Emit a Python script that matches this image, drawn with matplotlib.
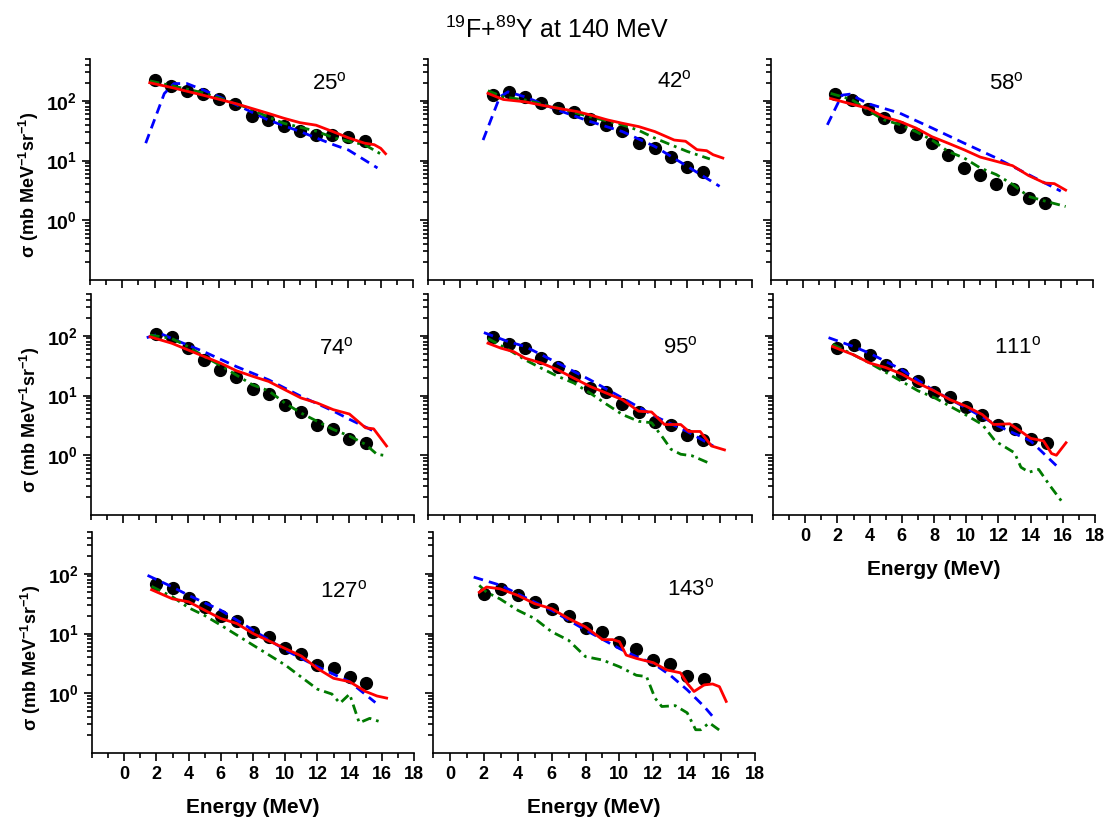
import math
import matplotlib
matplotlib.use('Agg')
import matplotlib.pyplot as plt
from matplotlib.ticker import FixedLocator, FuncFormatter, LogLocator, NullFormatter, MultipleLocator

plt.rcParams['font.family'] = ['Liberation Sans', 'DejaVu Sans']
plt.rcParams['mathtext.fontset'] = 'custom'
plt.rcParams['mathtext.rm'] = 'Liberation Sans'
plt.rcParams['mathtext.bf'] = 'Liberation Sans:bold'
plt.rcParams['mathtext.default'] = 'rm'

# angles (deg) in panel order
angles = [25, 42, 58, 74, 95, 111, 127, 143]

# measured data points
exp_E = [2, 3, 4, 5, 6, 7, 8, 9, 10, 11, 12, 13, 14, 15]
exp_sigma = {
    25: [220, 178, 147, 132, 107, 87, 56, 48, 38, 31, 27, 27, 25, 21],
    42: [124, 141, 116, 90, 75, 66, 49, 39.5, 31.7, 20, 16.5, 11.3, 7.7, 6.3],
    58: [129, 103, 72, 51, 37, 28, 19.5, 12.5, 7.4, 5.7, 4.0, 3.35, 2.4, 1.97],
    74: [107, 96, 62, 39.5, 27, 20.3, 13, 10.6, 7.0, 5.25, 3.27, 2.77, 1.89, 1.62],
    95: [96, 73, 62, 42, 29.8, 21.6, 13.3, 11.3, 7.3, 5.3, 3.63, 3.16, 2.15, 1.8],
    111: [62, 70, 48, 32.5, 22.8, 17.6, 11.4, 9.3, 6.4, 4.7, 3.27, 2.7, 1.85, 1.58],
    127: [68, 58, 39, 28, 19.7, 16.2, 10.7, 8.6, 5.8, 4.5, 2.97, 2.6, 1.9, 1.5],
    143: [45, 56, 43.5, 33.7, 26, 19.7, 12.6, 10.4, 7.1, 5.4, 3.6, 3.04, 1.97, 1.71],
}

# red solid calculation
red_E = {
    25: [1.7, 3, 5, 7, 9, 10, 11, 12, 13.1, 14, 15, 15.6, 16, 16.3],
    42: [1.7, 2.65, 4, 5.05, 6, 7.2, 8, 9.05, 10, 11, 12, 13.2, 13.9, 14.6, 15.2, 15.6, 16.2],
    58: [1.7, 3, 4, 5, 6, 7, 8, 9, 10, 11, 11.8, 13, 14, 15, 15.6, 16.3],
    74: [1.65, 3, 4, 5, 6, 7, 8, 9, 10, 11, 12, 13, 14, 15, 15.5, 16.3],
    95: [1.7, 2.5, 3.3, 4, 5, 6, 7, 8, 9, 10, 11, 11.8, 12.6, 13.6, 14.1, 14.8, 15.5, 16.3],
    111: [1.7, 3, 4, 5, 6, 7, 8, 9, 10, 11, 11.7, 12.7, 13.5, 14, 14.8, 15.3, 15.6, 16.2],
    127: [1.7, 3, 4, 5, 6, 7, 8, 9, 10, 11, 12, 13, 14, 15, 15.7, 16.3],
    143: [1.73, 2.16, 2.95, 4, 5, 6, 7, 8, 9, 9.6, 10, 10.4, 11, 12, 12.8, 13.6, 14, 14.4, 15, 15.5, 15.9, 16.3],
}
red_sigma = {
    25: [200, 168, 124, 90, 62, 51, 43, 39, 30, 24, 19.5, 18.4, 16, 13],
    42: [133, 105, 96, 84, 75, 66, 58, 48, 42, 37, 30.5, 22, 21, 15.2, 14.6, 12.5, 11],
    58: [109, 88, 75, 54, 45, 35, 25, 19.5, 15.1, 11.4, 10, 8.2, 5.6, 4.2, 4.1, 3.2],
    74: [96, 75, 58, 45, 35, 26, 21, 17.2, 12.5, 9.1, 7.5, 5.8, 4.9, 2.88, 2.77, 1.43],
    95: [75, 62, 54, 42, 35, 27, 19.5, 14.2, 11, 8.5, 5.46, 5.3, 3.27, 3.27, 2.5, 2.5, 1.43, 1.23],
    111: [66, 48, 35, 29.4, 22.8, 16.1, 12, 8.5, 6.6, 4.8, 3.27, 3.36, 2.4, 1.92, 1.74, 1.07, 1.0, 1.62],
    127: [54, 38, 34, 24.5, 17.8, 14.7, 10, 7.5, 5.6, 4.2, 2.6, 1.78, 1.56, 1.07, 0.9, 0.83],
    143: [49, 60, 56, 43.5, 31.6, 26, 17.8, 12.9, 7.9, 7.9, 7.3, 4.35, 3.83, 3.25, 2.45, 2.2, 1.47, 1.07, 1.38, 1.43, 1.29, 0.73],
}

# green dash-dot calculation
green_E = {
    25: [1.7, 3, 5, 7, 8, 9, 10, 12, 13.1, 14, 15, 16.2],
    42: [1.7, 2.65, 4, 6, 8, 10, 11, 12, 13, 14, 15.4],
    58: [1.7, 3, 4, 5, 6, 7, 8, 9, 10, 11, 12, 13, 14, 15, 16.3],
    74: [1.65, 3, 4, 5, 6, 7, 8, 9, 10, 11, 12, 13, 14, 15, 15.7, 16.1],
    95: [1.7, 3, 4, 5, 6, 7, 8, 9, 10, 11, 11.8, 12.5, 13, 13.6, 14.3, 15.5],
    111: [1.7, 3, 4, 5, 6, 7, 8, 9, 10, 11, 11.8, 13, 13.4, 13.9, 14.5, 15.2, 16],
    127: [1.7, 3, 4, 5, 6, 8, 10, 12, 12.9, 13.4, 14, 14.6, 15.25, 15.8],
    143: [1.73, 2.16, 2.95, 4, 5, 6, 7, 8, 9, 10, 11, 11.6, 12.1, 12.5, 13.3, 14, 14.5, 14.8, 15.3, 16],
}
green_sigma = {
    25: [215, 180, 136, 90, 72, 54, 42, 31, 24, 21, 18.4, 12],
    42: [147, 116, 103, 76, 54, 39.5, 32, 23.7, 18.3, 14.2, 10.6],
    58: [133, 105, 70, 48, 40, 30.5, 22, 14.2, 11, 7.5, 5.8, 4, 2.5, 2.1, 1.7],
    74: [103, 90, 66, 45, 32, 22, 15.1, 12, 7.5, 5.1, 3.7, 2.7, 2.1, 1.52, 1.04, 1.0],
    95: [90, 58, 39.5, 28.6, 21, 16.2, 11, 7.2, 4.8, 3.7, 3.5, 1.97, 1.26, 1.04, 0.98, 0.71],
    111: [72, 48, 35, 24.5, 17.2, 12, 9.3, 6.6, 4.7, 3.27, 1.73, 1.1, 0.63, 0.52, 0.58, 0.31, 0.16],
    127: [61.5, 41, 27, 20, 13.8, 6.4, 2.97, 1.17, 0.97, 0.68, 0.97, 0.32, 0.38, 0.34],
    143: [64, 49, 38, 24.5, 17.8, 10.7, 7.7, 4.1, 3.6, 2.78, 2.0, 1.9, 0.83, 0.6, 0.62, 0.47, 0.245, 0.245, 0.32, 0.23],
}

# blue dashed calculation
blue_E = {
    25: [1.45, 2.6, 3.2, 4, 5.05, 6, 7.1, 9, 11, 13.1, 14, 15.8],
    42: [1.4, 2.43, 2.94, 4, 6, 8, 10, 12, 14, 16],
    58: [1.5, 2.4, 2.9, 4, 6, 8, 10, 12, 14, 16],
    74: [1.45, 2.3, 3, 5, 7, 9, 11, 13, 14, 15.7],
    95: [1.45, 3, 4, 6, 8, 10, 12, 14, 15.6],
    111: [1.45, 3, 4, 6, 8, 10, 12, 14, 15.6],
    127: [1.45, 3, 4, 6, 8, 10, 12, 14, 15.6],
    143: [1.4, 3, 4, 6, 8, 10, 11, 12, 13, 14, 15, 15.6],
}
blue_sigma = {
    25: [19.5, 132, 194, 194, 150, 116, 85, 48, 30.6, 18.3, 15, 7.5],
    42: [22, 116, 141, 116, 70, 45, 30.5, 17.2, 8, 3.7],
    58: [39.5, 124, 129, 90, 62, 35, 19.5, 11, 5.8, 3.07],
    74: [93, 109, 90, 54, 30.5, 18.3, 9.7, 5.5, 4, 2.4],
    95: [113, 79, 66, 35, 18.3, 9.1, 4.5, 2.5, 1.43],
    111: [93, 66, 51, 27, 12, 6.2, 3.08, 1.74, 0.67],
    127: [94, 60, 43.5, 24.5, 11.4, 5.3, 2.78, 1.56, 0.7],
    143: [88, 64, 46, 24.5, 11.4, 5.6, 4.1, 3.16, 2.0, 1.14, 0.6, 0.38],
}

energy_ticks = [0, 2, 4, 6, 8, 10, 12, 14, 16, 18]

# panel boxes in pixels: left, top, right, bottom
W, H = 1109, 823
boxes = {
    25: (90, 59, 413, 280), 42: (428, 59, 752, 280), 58: (771, 59, 1093, 280),
    74: (91, 294, 414, 515), 95: (428, 294, 752, 515), 111: (773, 294, 1095, 515),
    127: (92, 532, 414, 753), 143: (433, 532, 755, 753),
}
xmins = {25: -2, 42: -2, 58: -2, 74: -2, 95: -2, 111: -2, 127: -2, 143: -1}
label_pos = {25: (0.74, 0.89), 42: (0.76, 0.90), 58: (0.73, 0.89), 74: (0.76, 0.755),
             95: (0.78, 0.76), 111: (0.76, 0.76), 127: (0.78, 0.73), 143: (0.80, 0.74)}
left_col = [25, 74, 127]
bottom_row = [111, 127, 143]

fig = plt.figure(figsize=(W / 100, H / 100), dpi=100)

for ang in angles:
    l, t, r, b = boxes[ang]
    ax = fig.add_axes([l / W, 1 - b / H, (r - l) / W, (b - t) / H])
    ax.plot(exp_E, exp_sigma[ang], 'o', color='black', markersize=8.5, zorder=2)
    ax.plot(blue_E[ang], blue_sigma[ang], color='#0000ff', lw=2, dashes=(3.5, 2.2), zorder=3)
    ax.plot(green_E[ang], green_sigma[ang], color='#007a00', lw=2, dashes=(3.5, 1.8, 1, 1.8), zorder=3)
    ax.plot(red_E[ang], red_sigma[ang], color='#ff0000', lw=2, zorder=4)

    ax.set_yscale('log')
    ax.set_ylim(0.1, 500)
    ax.set_xlim(xmins[ang], 18)
    ax.spines['top'].set_visible(False)
    ax.spines['right'].set_visible(False)
    for s in ('left', 'bottom'):
        ax.spines[s].set_linewidth(1.2)

    ax.xaxis.set_major_locator(FixedLocator(energy_ticks))
    ax.xaxis.set_minor_locator(MultipleLocator(1))
    ax.yaxis.set_major_locator(FixedLocator([1, 10, 100]))
    ax.yaxis.set_minor_locator(LogLocator(base=10, subs=(2, 3, 4, 5, 6, 7, 8, 9)))
    ax.yaxis.set_minor_formatter(NullFormatter())
    ax.tick_params(which='major', direction='out', length=6, width=1.2)
    ax.tick_params(which='minor', direction='out', length=3.5, width=1.2)

    if ang in left_col:
        ax.yaxis.set_major_formatter(FuncFormatter(lambda v, p: r'$\mathbf{10^{%d}}$' % round(math.log10(v))))
        ax.tick_params(axis='y', labelsize=14)
        ax.set_ylabel('\u03c3 (mb MeV$^{\\mathbf{-1}}$sr$^{\\mathbf{-1}}$)', fontsize=13, fontweight='bold')
        ax.yaxis.set_label_coords(-0.153, 0.43)
    else:
        ax.yaxis.set_major_formatter(NullFormatter())

    if ang in bottom_row:
        ax.tick_params(axis='x', labelsize=13)
        for lab in ax.get_xticklabels():
            lab.set_fontweight('bold')
        ax.set_xlabel('Energy (MeV)', fontsize=15, fontweight='bold', labelpad=11)
    else:
        ax.xaxis.set_major_formatter(NullFormatter())

    ax.text(label_pos[ang][0], label_pos[ang][1], '%d$^{o}$' % ang, transform=ax.transAxes,
            ha='center', va='center', fontsize=16)

fig.text(557 / W, 1 - 30 / H, r'$^{19}$F+$^{89}$Y at 140 MeV', ha='center', va='center', fontsize=18)

fig.savefig('out.png', dpi=100)
